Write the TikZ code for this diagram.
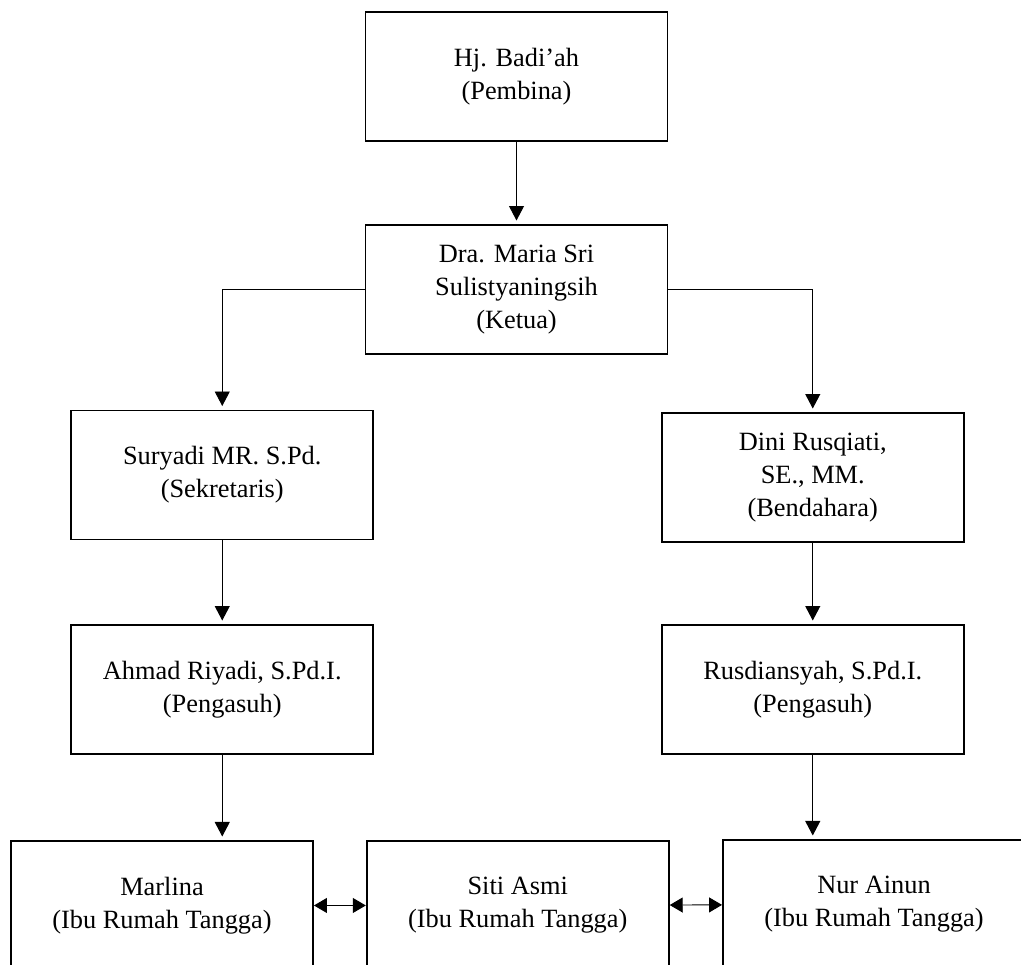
\documentclass[tikz,border=0pt]{standalone}
\usepackage{fontspec}
\setmainfont{Liberation Serif}
\usetikzlibrary{arrows.meta}
\begin{document}
\begin{tikzpicture}[
	box/.style={draw, line width=1.1pt, minimum width=6.04cm, minimum height=2.58cm,
		inner sep=0pt, align=center, font=\fontsize{15}{18.7}\selectfont},
	link/.style={line width=0.55pt, -{Triangle[length=0.29cm, width=0.3cm]}, shorten >=2pt},
	both/.style={line width=0.55pt,
		{Triangle[length=0.26cm, width=0.3cm]}-{Triangle[length=0.26cm, width=0.3cm]}}
]
\useasboundingbox (0, 0) rectangle (20.42, 19.28);
\clip (0, 0) rectangle (20.42, 19.28);

\node[box] (pembina) at (10.33, 17.75) {Hj. Badi’ah\\(Pembina)};
\node[box] (ketua) at (10.33, 13.49) {Dra. Maria Sri\\Sulistyaningsih\\(Ketua)};

\node[box] (sekretaris) at (4.445, 9.78) {Suryadi MR. S.Pd.\\(Sekretaris)};
\node[box] (bendahara) at (16.255, 9.73) {Dini Rusqiati,\\SE., MM.\\(Bendahara)};

\node[box] (pengasuhA) at (4.445, 5.49) {Ahmad Riyadi, S.Pd.I.\\(Pengasuh)};
\node[box] (pengasuhB) at (16.255, 5.49) {Rusdiansyah, S.Pd.I.\\(Pengasuh)};

% ibu rumah tangga, cut off by the page edge
\node[box, anchor=north] (marlina) at (3.24, 2.48) {Marlina\\(Ibu Rumah Tangga)};
\node[box, anchor=north] (siti) at (10.355, 2.48) {Siti Asmi\\(Ibu Rumah Tangga)};
\node[box, anchor=north] (nur) at (17.48, 2.5) {Nur Ainun\\(Ibu Rumah Tangga)};

\draw[link] (pembina) -- (ketua);
\draw[link] (ketua.west) -| (sekretaris.north);
\draw[link] (ketua.east) -| (bendahara.north);
\draw[link] (sekretaris) -- (pengasuhA);
\draw[link] (bendahara) -- (pengasuhB);
\draw[link] (pengasuhA.south) -- (pengasuhA.south |- marlina.north);
\draw[link] (pengasuhB.south) -- (pengasuhB.south |- nur.north);

\draw[both] (marlina) -- (siti);
\draw[both] (siti) -- (nur);

\end{tikzpicture}
\end{document}
